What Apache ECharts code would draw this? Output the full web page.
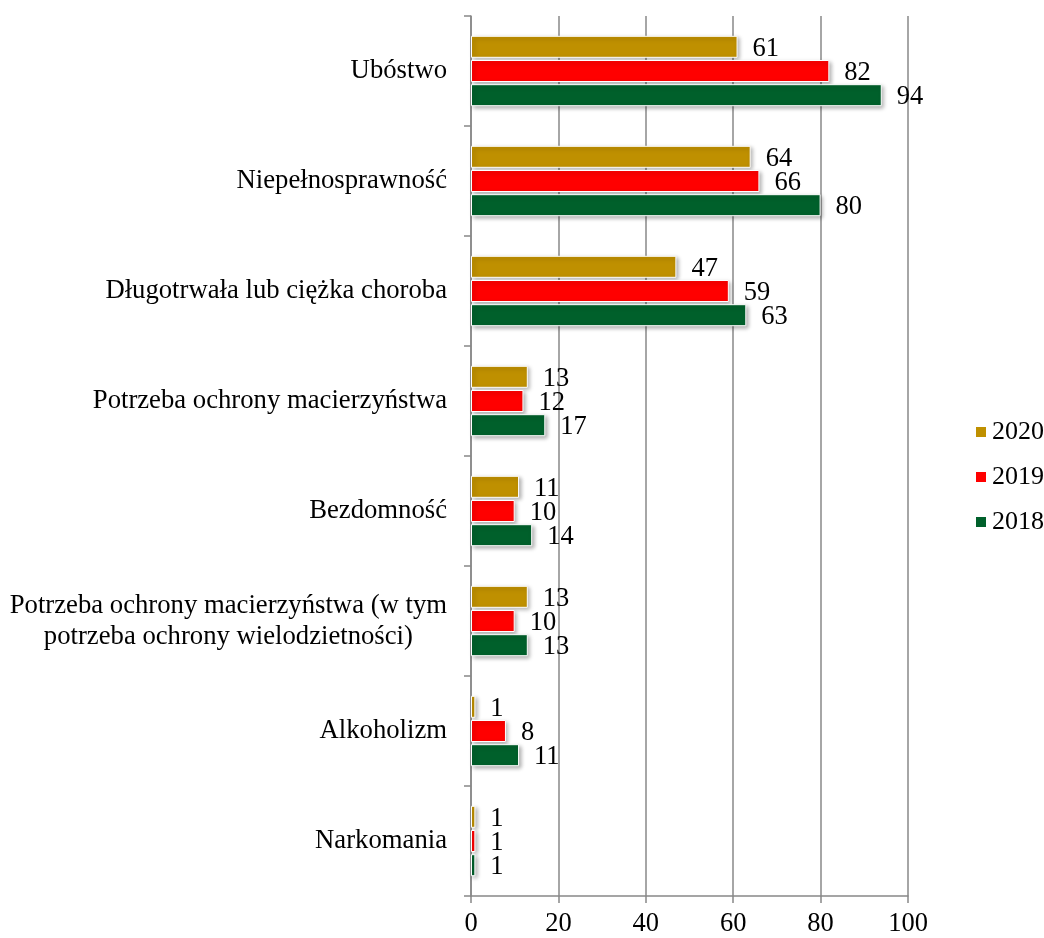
<!DOCTYPE html>
<html>
<head>
<meta charset="utf-8">
<script src="https://cdn.jsdelivr.net/npm/echarts@6/dist/echarts.min.js"></script>
<style>html,body{margin:0;padding:0;background:#fff}#c{width:1044px;height:938px}</style>
</head>
<body>
<div id="c"></div>
<script>
var categories = [
  'Ubóstwo',
  'Niepełnosprawność',
  'Długotrwała lub ciężka choroba',
  'Potrzeba ochrony macierzyństwa',
  'Bezdomność',
  'Potrzeba ochrony macierzyństwa (w tym\npotrzeba ochrony wielodzietności)',
  'Alkoholizm',
  'Narkomania'
];
var values2020 = [61, 64, 47, 13, 11, 13, 1, 1];
var values2019 = [82, 66, 59, 12, 10, 10, 8, 1];
var values2018 = [94, 80, 63, 17, 14, 13, 11, 1];
var seriesNames = ['2020', '2019', '2018'];
var xTicks = [0, 20, 40, 60, 80, 100];

var font = 'Liberation Serif';
var fs = 26.5;
var catFs = 26.7;
var colors = ['#BF9000', '#FF0000', '#00602B'];
function mk(name, data, color) {
  return {
    name: name, type: 'bar', data: data,
    barWidth: '20%', barGap: '10%',
    itemStyle: {
      color: color, borderColor: '#fff', borderWidth: 1,
      shadowColor: 'rgba(0,0,0,0.3)', shadowBlur: 4, shadowOffsetX: 2, shadowOffsetY: 2
    },
    label: { show: true, position: 'right', distance: 15, offset: [0, 2], color: '#000', fontFamily: font, fontSize: fs }
  };
}
var chart = echarts.init(document.getElementById('c'));
chart.setOption({
  animation: false,
  textStyle: { fontFamily: font },
  grid: { left: 471, right: 136, top: 16, bottom: 42 },
  legend: {
    orient: 'vertical', left: 969, top: 414,
    itemWidth: 12, itemHeight: 12, itemGap: 19, icon: 'rect',
    textStyle: { fontFamily: font, fontSize: 26, color: '#000' },
    data: seriesNames
  },
  xAxis: {
    type: 'value', min: 0, max: 100, interval: 20,
    axisLine: { show: true, lineStyle: { color: '#888', width: 1.5 } },
    axisTick: { show: true, length: 7, lineStyle: { color: '#888', width: 1.5 } },
    splitLine: { show: true, lineStyle: { color: '#888', width: 1.5 } },
    axisLabel: { color: '#000', fontFamily: font, fontSize: fs, margin: 15,
      formatter: function (v) { return xTicks.indexOf(v) >= 0 ? String(v) : ''; } }
  },
  yAxis: {
    type: 'category', data: categories, inverse: true,
    axisLine: { show: true, lineStyle: { color: '#888', width: 1.5 } },
    axisTick: { show: true, length: 7, lineStyle: { color: '#888', width: 1.5 } },
    axisLabel: {
      color: '#000', fontFamily: font, fontSize: catFs, margin: 24, lineHeight: 31,
      formatter: function (v) {
        return v.split('\n').map(function (s) { return '{c|' + s + '}'; }).join('\n');
      },
      rich: { c: { align: 'center', fontFamily: font, fontSize: catFs, lineHeight: 31, color: '#000' } }
    }
  },
  series: [
    mk(seriesNames[0], values2020, colors[0]),
    mk(seriesNames[1], values2019, colors[1]),
    mk(seriesNames[2], values2018, colors[2])
  ]
});
</script>
</body>
</html>
